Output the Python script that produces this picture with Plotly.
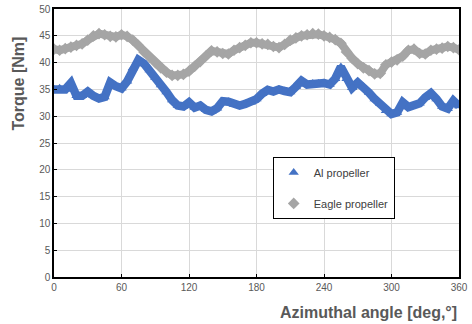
import plotly.graph_objects as go

angle = list(range(0, 361, 5))

al_propeller = [35.0, 35.2, 35.0, 36.2, 33.8, 33.8, 34.6, 33.8, 33.3, 33.6,
                36.3, 35.6, 35.2, 36.5, 39.0, 40.5, 39.8, 38.6, 37.2, 35.8,
                34.5, 33.0, 32.0, 31.8, 32.6, 31.6, 32.0, 31.2, 30.9, 31.5,
                32.8, 32.7, 32.2, 32.0, 32.3, 32.6, 33.2, 34.2, 34.9, 34.6,
                35.0, 34.7, 34.5, 35.5, 36.6, 35.9, 36.1, 36.1, 36.2, 35.9,
                37.0, 39.2, 37.0, 35.3, 36.3, 35.5, 34.4, 33.2, 32.3, 31.0,
                30.4, 30.7, 32.6, 31.7, 32.0, 32.4, 33.5, 34.3, 33.2, 31.8,
                31.4, 32.9, 31.9]

eagle_propeller = [42.5, 42.3, 42.6, 42.9, 43.2, 43.5, 44.2, 45.0, 45.4, 45.2,
                   44.9, 44.8, 45.2, 44.9, 44.2, 43.2, 42.0, 41.0, 40.0, 39.0,
                   38.2, 37.6, 37.6, 37.8, 38.4, 39.3, 40.2, 41.2, 42.2, 42.0,
                   41.7, 41.6, 42.3, 42.8, 43.2, 43.7, 43.7, 43.5, 43.4, 43.0,
                   42.8, 43.4, 44.2, 44.6, 45.0, 45.2, 45.4, 45.3, 45.0, 44.7,
                   44.3, 43.6, 42.0, 40.8, 39.8, 39.0, 38.5, 37.9, 38.0, 39.6,
                   40.1, 40.5, 41.2, 42.3, 42.5, 41.7, 41.6, 42.3, 42.5, 42.7,
                   43.0, 42.8, 42.4]

x_ticks = [0, 60, 120, 180, 240, 300, 360]
y_ticks = [0, 5, 10, 15, 20, 25, 30, 35, 40, 45, 50]

BLUE = "#4472C4"
GRAY = "#A5A5A5"
TXT = "#595959"
FONT = "Liberation Sans"

fig = go.Figure()

# thick band lines (not in legend); Al first, Eagle drawn on top
fig.add_trace(go.Scatter(x=angle, y=al_propeller, mode="lines",
                         line=dict(color=BLUE, width=8.5), showlegend=False,
                         hoverinfo="skip"))
fig.add_trace(go.Scatter(x=angle, y=al_propeller, mode="markers",
                         name="Al propeller", legendgroup="a",
                         marker=dict(symbol="triangle-up", size=9, color=BLUE)))
fig.add_trace(go.Scatter(x=angle, y=eagle_propeller, mode="lines",
                         line=dict(color=GRAY, width=8), showlegend=False,
                         hoverinfo="skip"))
fig.add_trace(go.Scatter(x=angle, y=eagle_propeller, mode="markers",
                         name="Eagle propeller", legendgroup="b",
                         marker=dict(symbol="diamond", size=9, color=GRAY)))

axis_common = dict(showgrid=True, gridcolor="#D9D9D9", gridwidth=1,
                   showline=True, linecolor="black", linewidth=1.5, mirror=True,
                   ticks="inside", ticklen=3, tickcolor="black",
                   tickfont=dict(family=FONT, size=10, color=TXT),
                   zeroline=False, automargin=False)

fig.update_layout(
    width=472, height=324,
    margin=dict(l=54, r=13, t=9, b=47, autoexpand=False),
    paper_bgcolor="white", plot_bgcolor="white",
    font=dict(family=FONT, color=TXT),
    xaxis=dict(range=[0, 360], tickvals=x_ticks, **axis_common),
    yaxis=dict(range=[0, 50], tickvals=y_ticks, **axis_common),
    showlegend=True,
    legend=dict(x=0.54, y=0.448, xanchor="left", yanchor="top",
                bordercolor="black", borderwidth=1, bgcolor="white",
                traceorder="grouped", tracegroupgap=12,
                font=dict(family=FONT, size=11, color="#404040")),
)

fig.add_annotation(text="<b>Torque [Nm]</b>", xref="paper", yref="paper",
                   x=-0.09, y=0.72, textangle=-90, showarrow=False,
                   font=dict(family=FONT, size=16, color=TXT),
                   xanchor="center", yanchor="middle")
fig.add_annotation(text="<b>Azimuthal angle [deg,°]</b>", xref="paper", yref="paper",
                   x=1.0, y=-0.095, showarrow=False,
                   font=dict(family=FONT, size=16, color=TXT),
                   xanchor="right", yanchor="top")

fig.write_html(
    "out.html",
    config={"displayModeBar": False},
    post_script=(
        "document.body.style.margin='0';"
        "document.body.style.overflow='hidden';"
        "var d=document.getElementById('{plot_id}');"
        "d.style.position='fixed';d.style.left='0px';d.style.top='0px';"
    ),
)
